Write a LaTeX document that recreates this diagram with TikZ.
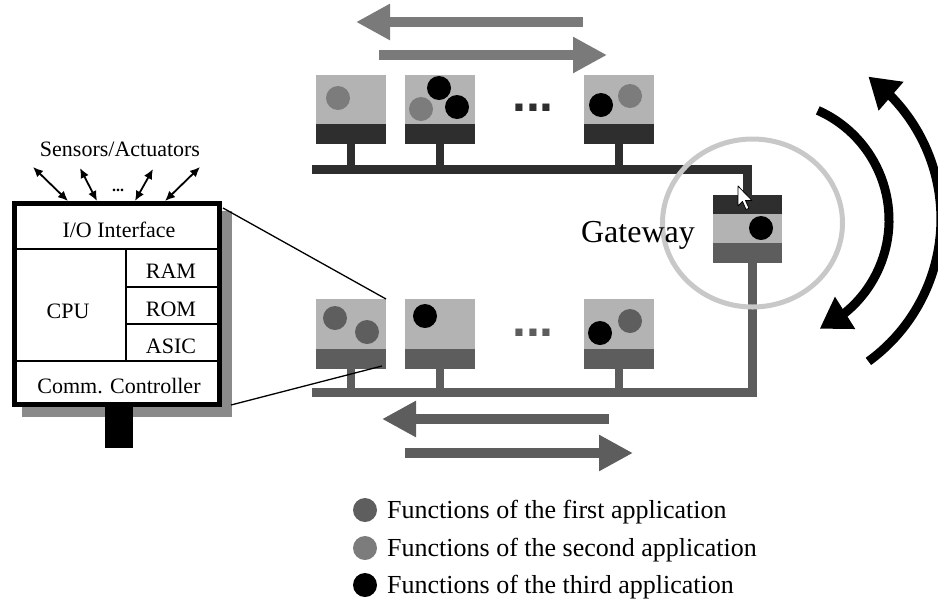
\documentclass[tikz,border=0pt]{standalone}
\usepackage{fontspec}
\setmainfont{Liberation Serif}
\newfontfamily\dotsfont{Liberation Sans}
\usetikzlibrary{arrows.meta,bending}
\definecolor{cBody}{HTML}{B3B3B3}
\definecolor{cDark}{HTML}{2E2E2E}
\definecolor{cMid}{HTML}{5D5D5D}
\definecolor{cAppOne}{HTML}{5E5E5E}
\definecolor{cAppTwo}{HTML}{7C7C7C}
\definecolor{cArrowTop}{HTML}{7A7A7A}
\definecolor{cRing}{HTML}{C8C8C8}
\definecolor{cShadow}{HTML}{8A8A8A}
\begin{document}
\begin{tikzpicture}[x=1pt,y=1pt,yscale=-1,
  body/.style={fill=cBody,inner sep=0pt,outer sep=0pt,minimum width=70pt,anchor=north west},
  barbox/.style={inner sep=0pt,outer sep=0pt,minimum width=70pt,anchor=north west},
  appdot/.style={circle,inner sep=0pt,outer sep=0pt,minimum size=24pt},
  bus/.style={line width=9pt,line join=miter},
  stem/.style={line width=8pt},
  blockarrow/.style={line width=10pt,-{Triangle[length=34pt,width=34pt]}},
  arcarrow/.style={line width=9pt,-{Triangle[length=30pt,width=36pt]}},
  sensarrow/.style={line width=1.8pt,{Latex[length=10pt,width=9pt]}-{Latex[length=10pt,width=9pt]}},
  boxtxt/.style={inner sep=0pt,font=\fontsize{22}{22}\selectfont},
  legtxt/.style={inner sep=0pt,anchor=base west,font=\fontsize{26}{26}\selectfont},
  dotstxt/.style={inner sep=0pt,anchor=base,font=\dotsfont\bfseries\fontsize{50}{50}\selectfont},
  inner/.style={line width=2.5pt}]
\useasboundingbox (0,0) rectangle (938,606);
\clip (0,0) rectangle (938,606);

% ---- top arrows
\draw[blockarrow,cArrowTop] (583,22) -- (356,22);
\draw[blockarrow,cArrowTop] (379,55) -- (607,55);

% ---- top units
\node[body,minimum height=49pt] (t1) at (316,75) {};
\node[barbox,fill=cDark,minimum height=20pt] (t1b) at (316,124) {};
\node[body,minimum height=49pt] (t2) at (405,75) {};
\node[barbox,fill=cDark,minimum height=20pt] (t2b) at (405,124) {};
\node[body,minimum height=49pt] (t3) at (584,75) {};
\node[barbox,fill=cDark,minimum height=20pt] (t3b) at (584,124) {};
\node[dotstxt,text=cDark] (tdots) at (533,111) {...};

\node[appdot,fill=cAppTwo] (t1c1) at (338,98) {};
\node[appdot,fill=black] (t2c1) at (439,88) {};
\node[appdot,fill=cAppTwo] (t2c2) at (421,109) {};
\node[appdot,fill=black] (t2c3) at (457,107) {};
\node[appdot,fill=black] (t3c1) at (601,105) {};
\node[appdot,fill=cAppTwo] (t3c2) at (630,96) {};

% ---- gateway
\node[barbox,fill=cDark,minimum width=69pt,minimum height=19pt] (gtop) at (713,195) {};
\node[body,minimum width=69pt,minimum height=29pt] (gw) at (713,214) {};
\node[barbox,fill=cMid,minimum width=69pt,minimum height=20pt] (gbot) at (713,243) {};
\node[appdot,fill=black] (gc1) at (761,228) {};

% ---- top bus
\coordinate (tbusL) at (312,169.5);
\coordinate (tbusR) at (747.5,169.5);
\draw[bus,cDark] (tbusL) -- (tbusR) -- (gtop.north);
\draw[stem,cDark] (t1b.south) -- (t1b.south |- tbusL);
\draw[stem,cDark] (t2b.south) -- (t2b.south |- tbusL);
\draw[stem,cDark] (t3b.south) -- (t3b.south |- tbusL);

% ---- bottom units
\node[body,minimum height=50pt] (b1) at (316,299) {};
\node[barbox,fill=cMid,minimum height=20pt] (b1b) at (316,349) {};
\node[body,minimum height=50pt] (b2) at (405,299) {};
\node[barbox,fill=cMid,minimum height=20pt] (b2b) at (405,349) {};
\node[body,minimum height=50pt] (b3) at (584,299) {};
\node[barbox,fill=cMid,minimum height=20pt] (b3b) at (584,349) {};
\node[dotstxt,text=cMid] (bdots) at (533,336) {...};

\node[appdot,fill=cAppOne] (b1c1) at (335,318) {};
\node[appdot,fill=cAppOne] (b1c2) at (367,332) {};
\node[appdot,fill=black] (b2c1) at (425,316) {};
\node[appdot,fill=black] (b3c1) at (600,333) {};
\node[appdot,fill=cAppOne] (b3c2) at (630,321) {};

% ---- bottom bus
\coordinate (bbusL) at (312,392.5);
\coordinate (bbusR) at (752,392.5);
\draw[bus,cMid] (bbusL) -- (bbusR) -- (bbusR |- gbot.south);
\draw[stem,cMid] (b1b.south) -- (b1b.south |- bbusL);
\draw[stem,cMid] (b2b.south) -- (b2b.south |- bbusL);
\draw[stem,cMid] (b3b.south) -- (b3b.south |- bbusL);

% ---- bottom arrows
\draw[blockarrow,cMid] (609,419) -- (382,419);
\draw[blockarrow,cMid] (405,453) -- (633,453);

% ---- ring
\draw[cRing,line width=5pt] (752.5,223) ellipse [x radius=90pt,y radius=84pt];
\node[inner sep=0pt,anchor=base,font=\fontsize{32}{32}\selectfont] (gwtxt) at (638,242) {Gateway};

% ---- rotation arrows
\draw[arcarrow] (817.8,110.4) arc[start angle=-66,end angle=65,radius=120pt];
\draw[arcarrow] (868.4,361.4) arc[start angle=54,end angle=-54,radius=176pt];

% ---- cursor
\draw[fill=white,line width=0.8pt,line join=round]
  (738,186) -- (738,206) -- (742.5,201.5) -- (746,209.5) -- (749,208.3) -- (745.5,200.5) -- (752,200.5) -- cycle;

% ---- ECU box
\fill[cShadow] (22,211) rectangle (232,417);
\fill[black] (105,405) rectangle (133,448);
\node[draw,line width=5pt,fill=white,minimum width=205pt,minimum height=201pt,inner sep=0pt] (ecu) at (117,304) {};
\draw[inner] (ecu.west |- 0,249) -- (ecu.east |- 0,249);
\draw[inner] (ecu.west |- 0,361) -- (ecu.east |- 0,361);
\draw[inner] (126,249) -- (126,361);
\draw[inner] (126,287) -- (ecu.east |- 0,287);
\draw[inner] (126,324) -- (ecu.east |- 0,324);
\node[boxtxt,anchor=base] (io) at (119,237) {I/O Interface};
\node[boxtxt,anchor=base] (cpu) at (68,318) {CPU};
\node[boxtxt,anchor=base] (ram) at (171,278) {RAM};
\node[boxtxt,anchor=base] (rom) at (171,316) {ROM};
\node[boxtxt,anchor=base] (asic) at (171,353) {ASIC};
\node[boxtxt,anchor=base] (comm) at (119,393) {Comm. Controller};

% ---- sensors
\node[boxtxt,anchor=base] (sens) at (120,156) {Sensors/Actuators};
\coordinate (s1a) at (68,201);  \coordinate (s1b) at (33,167);
\coordinate (s2a) at (97,201);  \coordinate (s2b) at (80,168);
\coordinate (s3a) at (135,201); \coordinate (s3b) at (153,169);
\coordinate (s4a) at (165,201); \coordinate (s4b) at (200,167);
\draw[sensarrow] (s1a) -- (s1b);
\draw[sensarrow] (s2a) -- (s2b);
\draw[sensarrow] (s3a) -- (s3b);
\draw[sensarrow] (s4a) -- (s4b);
\node[inner sep=0pt,anchor=base,font=\bfseries\fontsize{16}{16}\selectfont] (sdots) at (118,191) {...};

% ---- zoom lines
\coordinate (z1) at (223,208);
\coordinate (z2) at (231,405);
\coordinate (z2e) at (382,366);
\draw[line width=1.3pt] (z1) -- (b1.north east);
\draw[line width=1.3pt] (z2) -- (z2e);

% ---- legend
\node[appdot,fill=cAppOne] (l1) at (365,510) {};
\node[legtxt] (l1t) at (387,518) {Functions of the first application};
\node[appdot,fill=cAppTwo] (l2) at (365,548) {};
\node[legtxt] (l2t) at (387,556) {Functions of the second application};
\node[appdot,fill=black] (l3) at (365,585) {};
\node[legtxt] (l3t) at (387,593) {Functions of the third application};
\end{tikzpicture}
\end{document}
